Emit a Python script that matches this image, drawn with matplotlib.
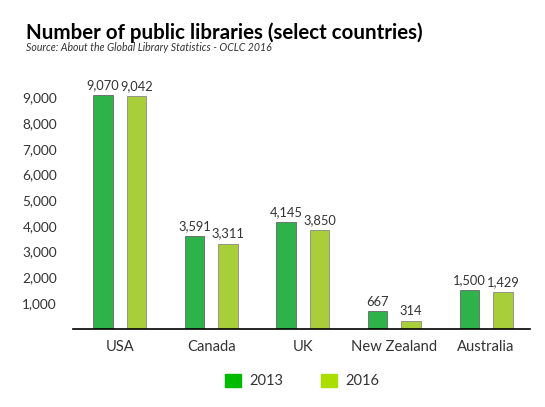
import matplotlib.pyplot as plt
import numpy as np
from matplotlib.patches import Patch

countries = ['USA', 'Canada', 'UK', 'New Zealand', 'Australia']
libs_2013 = [9070, 3591, 4145, 667, 1500]
libs_2016 = [9042, 3311, 3850, 314, 1429]
years = ['2013', '2016']
yticks = [1000, 2000, 3000, 4000, 5000, 6000, 7000, 8000, 9000]

c13 = '#2eb34b'
c16 = '#a8cf3a'
txt = '#333333'

plt.rcParams['font.family'] = ['Lato', 'DejaVu Sans']

fig = plt.figure(figsize=(5.45, 4.07), dpi=100)
ax = fig.add_axes([0.134, 0.1926, 0.8385, 0.600])

x = np.arange(len(countries))
w = 0.213
off = 0.183
b1 = ax.bar(x - off, libs_2013, w, color=c13, edgecolor='#666666', linewidth=0.6)
b2 = ax.bar(x + off, libs_2016, w, color=c16, edgecolor='#888888', linewidth=0.6)

for bars, vals in [(b1, libs_2013), (b2, libs_2016)]:
    for r, v in zip(bars, vals):
        ax.text(r.get_x() + r.get_width() / 2, v + 150, '{:,}'.format(v),
                ha='center', va='bottom', fontsize=9.3, color=txt)

ax.set_xlim(-0.51, 4.48)
ax.set_ylim(0, 9500)
ax.set_yticks(yticks)
ax.set_yticklabels(['{:,}'.format(t) for t in yticks])
ax.set_xticks(x)
ax.set_xticklabels(countries)
ax.tick_params(axis='both', length=0, colors=txt)
ax.tick_params(axis='y', labelsize=9.8, pad=11.5)
ax.tick_params(axis='x', labelsize=10.6, pad=8)

for s in ['top', 'right', 'left']:
    ax.spines[s].set_visible(False)
ax.spines['bottom'].set_color('black')
ax.spines['bottom'].set_linewidth(1.2)

fig.text(0.048, 0.905, 'Number of public libraries (select countries)',
         fontsize=14.8, fontweight='bold', color='black')
fig.text(0.048, 0.874, 'Source: About the Global Library Statistics - OCLC 2016',
         fontsize=7.6, style='italic', color=txt)

handles = [Patch(facecolor='#00bb00', edgecolor='#00bb00'),
           Patch(facecolor='#aadd00', edgecolor='#aadd00')]
fig.legend(handles, years, loc='center', bbox_to_anchor=(0.555, 0.064), ncol=2,
           frameon=False, fontsize=10.5, handlelength=1.05, handleheight=1.05,
           handletextpad=0.6, columnspacing=2.6, labelcolor=txt)

fig.savefig('out.png', dpi=100)
